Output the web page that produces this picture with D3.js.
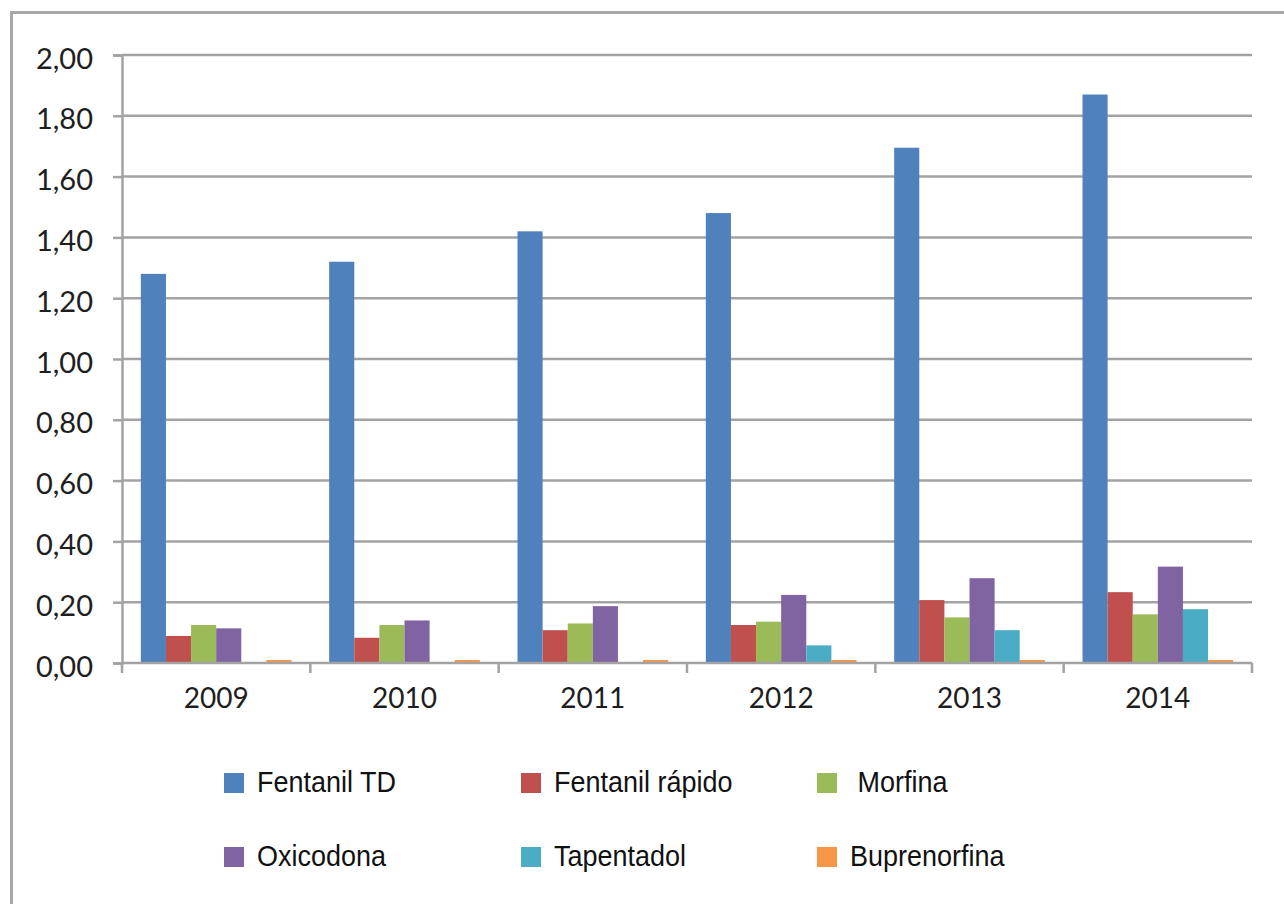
<!DOCTYPE html>
<html>
<head>
<meta charset="utf-8">
<script src="https://cdn.jsdelivr.net/npm/d3@7"></script>
<style>
  html, body { margin: 0; padding: 0; background: #fff; }
  svg { display: block; }
</style>
</head>
<body>
<svg id="chart" width="1284" height="904"></svg>
<script>
const years = ["2009", "2010", "2011", "2012", "2013", "2014"];
const seriesNames = ["Fentanil TD", "Fentanil rápido", " Morfina", "Oxicodona", "Tapentadol", "Buprenorfina"];
const fentanilTD     = [1.28, 1.32, 1.42, 1.48, 1.695, 1.87];
const fentanilRapido = [0.089, 0.083, 0.108, 0.125, 0.207, 0.233];
const morfina        = [0.125, 0.125, 0.13, 0.136, 0.15, 0.16];
const oxicodona      = [0.114, 0.14, 0.187, 0.224, 0.279, 0.317];
const tapentadol     = [0, 0, 0, 0.058, 0.108, 0.177];
const buprenorfina   = [0.01, 0.01, 0.01, 0.01, 0.01, 0.01];
const yTicks = [0, 0.2, 0.4, 0.6, 0.8, 1.0, 1.2, 1.4, 1.6, 1.8, 2.0];
const colors = ["#4F81BD", "#C0504D", "#9BBB59", "#8064A2", "#4BACC6", "#F79646"];

const allSeries = [fentanilTD, fentanilRapido, morfina, oxicodona, tapentadol, buprenorfina];

const svg = d3.select("#chart");
const plotLeft = 122, plotRight = 1252, plotTop = 55, plotBottom = 663;
const gridColor = "#a3a3a3";

// outer border
svg.append("rect")
  .attr("x", 11.5).attr("y", 12.5)
  .attr("width", 1400).attr("height", 1000)
  .attr("fill", "none").attr("stroke", "#a8a8a8").attr("stroke-width", 3);

const y = d3.scaleLinear().domain([0, 2]).range([plotBottom, plotTop]);
const x0 = d3.scaleBand().domain(years).range([plotLeft, plotRight]).padding(0);
const barW = x0.bandwidth() / (seriesNames.length + 1.5);
const x1 = d3.scaleBand().domain(d3.range(seriesNames.length))
  .range([0.75 * barW, x0.bandwidth() - 0.75 * barW]).padding(0);

// gridlines + y axis
const yAxis = d3.axisLeft(y).tickValues(yTicks).tickSize(9).tickPadding(20)
  .tickFormat(d => d3.format(".2f")(d).replace(".", ","));
const gy = svg.append("g").attr("transform", `translate(${plotLeft},0)`).call(yAxis);
gy.select(".domain").attr("stroke", gridColor).attr("stroke-width", 2.5);
gy.selectAll(".tick line").attr("stroke", gridColor).attr("stroke-width", 2.5);
gy.selectAll(".tick text")
  .attr("font-family", "Lato, 'Open Sans', sans-serif")
  .attr("font-size", 29).attr("fill", "#1e1e1e").attr("dy", "0.45em");

svg.append("g").selectAll("line").data(yTicks.filter(d => d > 0)).join("line")
  .attr("x1", plotLeft).attr("x2", plotRight)
  .attr("y1", d => y(d)).attr("y2", d => y(d))
  .attr("stroke", gridColor).attr("stroke-width", 2.5);

// bars
const data = years.map((yr, i) => ({ year: yr, values: allSeries.map(s => s[i]) }));
svg.append("g").selectAll("g").data(data).join("g")
  .attr("transform", d => `translate(${x0(d.year)},0)`)
  .selectAll("rect").data(d => d.values.map((v, k) => ({ v, k }))).join("rect")
  .attr("x", d => x1(d.k)).attr("width", x1.bandwidth())
  .attr("y", d => y(d.v)).attr("height", d => plotBottom - y(d.v))
  .attr("fill", d => colors[d.k]);

// x axis
const xAxis = d3.axisBottom(x0).tickSize(0).tickPadding(45);
const gx = svg.append("g").attr("transform", `translate(0,${plotBottom})`).call(xAxis);
gx.select(".domain").remove();
gx.selectAll(".tick text")
  .attr("font-family", "Lato, 'Open Sans', sans-serif")
  .attr("font-size", 28).attr("fill", "#1e1e1e").attr("dy", "0");
svg.append("line").attr("x1", plotLeft).attr("x2", plotRight).attr("y1", plotBottom).attr("y2", plotBottom)
  .attr("stroke", gridColor).attr("stroke-width", 2.5);
const bounds = years.map(yr => x0(yr)).concat([plotRight]);
svg.append("g").selectAll("line").data(bounds).join("line")
  .attr("x1", d => d).attr("x2", d => d).attr("y1", plotBottom).attr("y2", plotBottom + 10)
  .attr("stroke", gridColor).attr("stroke-width", 2.5);

// legend
const legCols = [224, 521, 817];
const legRows = [773, 847];
const leg = svg.append("g").selectAll("g").data(seriesNames).join("g")
  .attr("transform", (d, i) => `translate(${legCols[i % 3]},${legRows[Math.floor(i / 3)]})`);
leg.append("rect").attr("width", 20).attr("height", 20).attr("fill", (d, i) => colors[i]);
leg.append("text")
  .attr("transform", "translate(33,19) scale(0.93,1)")
  .attr("font-family", "'Liberation Sans', Arial, sans-serif")
  .attr("font-size", 29).attr("fill", "#111")
  .style("white-space", "pre")
  .text(d => d);
</script>
</body>
</html>
